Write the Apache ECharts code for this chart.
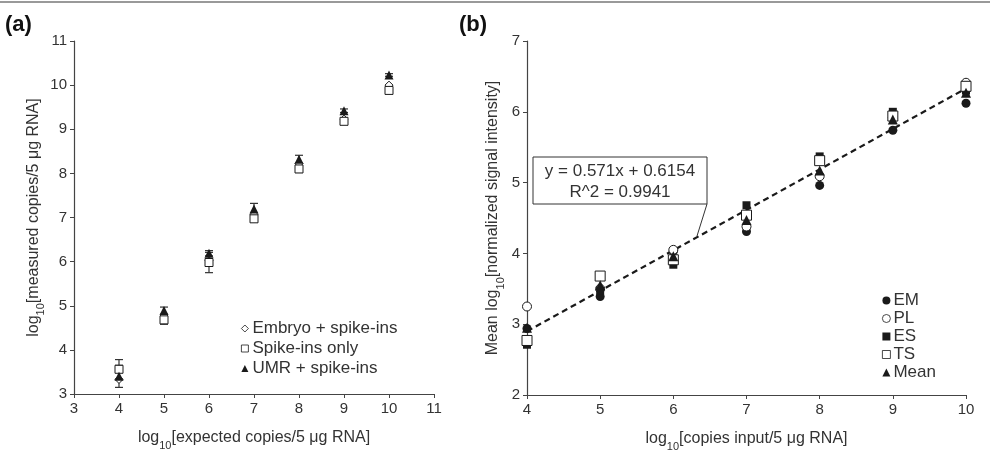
<!DOCTYPE html>
<html>
<head>
<meta charset="utf-8">
<script src="https://cdn.jsdelivr.net/npm/echarts@6/dist/echarts.min.js"></script>
<style>
  html, body { margin: 0; padding: 0; background: #fff; }
  #chart { width: 990px; height: 462px; }
</style>
</head>
<body>
<div id="chart"></div>
<script>
// panel (a)
var xA = [4, 5, 6, 7, 8, 9, 10]
var embryo = [3.33, 4.79, 6.02, 7.07, 8.22, 9.23, 10.0]
var spikeOnly = [3.56, 4.68, 5.98, 6.97, 8.1, 9.18, 9.88]
var umr = [3.4, 4.89, 6.19, 7.19, 8.32, 9.42, 10.23]
var spikeErr = [0.22, 0.1, 0.23, 0.06, 0.08, 0.05, 0.04]
var umrErr = [0.25, 0.08, 0.06, 0.13, 0.09, 0.04, 0.03]

// panel (b)
var xB = [4, 5, 6, 7, 8, 9, 10]
var em = [2.94, 3.39, 4.03, 4.31, 4.96, 5.74, 6.12]
var pl = [3.25, 3.5, 4.05, 4.38, 5.09, 5.92, 6.41]
var es = [2.71, 3.47, 3.84, 4.68, 5.37, 6.0, 6.3]
var ts = [2.77, 3.68, 3.91, 4.54, 5.31, 5.94, 6.36]
var mean = [2.95, 3.55, 3.96, 4.47, 5.17, 5.89, 6.27]
var trend = [[4, 2.9], [10, 6.33]]

var ink = '#1a1a1a'
var font = "'Liberation Sans', Arial, sans-serif"

function pairs(xs, ys) {
    return xs.map(function (x, i) { return [x, ys[i]] })
}
function errData(xs, ys, es) {
    return xs.map(function (x, i) { return [x, ys[i] - es[i], ys[i] + es[i]] })
}
function errItem(params, api) {
    var x = api.value(0)
    var lo = api.coord([x, api.value(1)])
    var hi = api.coord([x, api.value(2)])
    var w = 4
    var st = { stroke: '#333', lineWidth: 1.2 }
    return {
        type: 'group',
        children: [
            { type: 'line', shape: { x1: hi[0], y1: hi[1], x2: lo[0], y2: lo[1] }, style: st },
            { type: 'line', shape: { x1: hi[0] - w, y1: hi[1], x2: hi[0] + w, y2: hi[1] }, style: st },
            { type: 'line', shape: { x1: lo[0] - w, y1: lo[1], x2: lo[0] + w, y2: lo[1] }, style: st }
        ]
    }
}

var rich = {
    a: { fontSize: 16, color: '#333', fontFamily: font, lineHeight: 22, verticalAlign: 'bottom' },
    s: { fontSize: 11, color: '#333', fontFamily: font, lineHeight: 22, verticalAlign: 'bottom', padding: [0, 0, -5, 0] }
}

function axisBase() {
    return {
        nameLocation: 'middle',
        nameTextStyle: { rich: rich },
        splitLine: { show: false },
        axisLine: { lineStyle: { color: '#444', width: 1.2 } },
        axisTick: { lineStyle: { color: '#444' }, length: 4 },
        axisLabel: { color: '#333', fontSize: 15, fontFamily: font, margin: 7 }
    }
}

var chart = echarts.init(document.getElementById('chart'))

var option = {
    animation: false,
    backgroundColor: '#fff',
    grid: [
        { left: 74, top: 41, width: 360, height: 353 },
        { left: 527, top: 41, width: 439, height: 354 }
    ],
    xAxis: [
        Object.assign(axisBase(), {
            gridIndex: 0, type: 'value', min: 3, max: 11, interval: 1,
            name: '{a|log}{s|10}{a|[expected copies/5 μg RNA]}', nameGap: 30
        }),
        Object.assign(axisBase(), {
            gridIndex: 1, type: 'value', min: 4, max: 10, interval: 1,
            name: '{a|log}{s|10}{a|[copies input/5 μg RNA]}', nameGap: 30
        })
    ],
    yAxis: [
        Object.assign(axisBase(), {
            gridIndex: 0, type: 'value', min: 3, max: 11, interval: 1,
            name: '{a|log}{s|10}{a|[measured copies/5 μg RNA]}', nameGap: 26
        }),
        Object.assign(axisBase(), {
            gridIndex: 1, type: 'value', min: 2, max: 7, interval: 1,
            name: '{a|Mean log}{s|10}{a|[normalized signal intensity]}', nameGap: 26
        })
    ],
    legend: [
        {
            left: 236, top: 315, orient: 'vertical', itemWidth: 7, itemHeight: 7, itemGap: 3,
            itemStyle: { borderWidth: 0.8 },
            textStyle: { fontSize: 17, color: '#333', fontFamily: font, padding: [0, 0, 0, -1] },
            data: ['Embryo + spike-ins', 'Spike-ins only', 'UMR + spike-ins']
        },
        {
            left: 877, top: 287, orient: 'vertical', itemWidth: 8, itemHeight: 8, itemGap: 1,
            itemStyle: { borderWidth: 0.8 },
            textStyle: { fontSize: 17, color: '#333', fontFamily: font, padding: [0, 0, 0, -2] },
            data: ['EM', 'PL', 'ES', 'TS', 'Mean']
        }
    ],
    series: [
        { type: 'custom', xAxisIndex: 0, yAxisIndex: 0, renderItem: errItem, data: errData(xA, spikeOnly, spikeErr), z: 1 },
        { type: 'custom', xAxisIndex: 0, yAxisIndex: 0, renderItem: errItem, data: errData(xA, umr, umrErr), z: 1 },
        {
            name: 'Embryo + spike-ins', type: 'scatter', xAxisIndex: 0, yAxisIndex: 0,
            symbol: 'diamond', symbolSize: 8,
            itemStyle: { color: '#fff', borderColor: ink, borderWidth: 1, opacity: 1 },
            data: pairs(xA, embryo), z: 3
        },
        {
            name: 'Spike-ins only', type: 'scatter', xAxisIndex: 0, yAxisIndex: 0,
            symbol: 'rect', symbolSize: 8,
            itemStyle: { color: '#fff', borderColor: ink, borderWidth: 1, opacity: 1 },
            data: pairs(xA, spikeOnly), z: 3
        },
        {
            name: 'UMR + spike-ins', type: 'scatter', xAxisIndex: 0, yAxisIndex: 0,
            symbol: 'triangle', symbolSize: 9,
            itemStyle: { color: ink, opacity: 1 },
            data: pairs(xA, umr), z: 4
        },
        {
            type: 'line', xAxisIndex: 1, yAxisIndex: 1, data: trend, symbol: 'none',
            lineStyle: { color: ink, width: 2.2, type: [6, 4] }, z: 2, silent: true
        },
        {
            name: 'EM', type: 'scatter', xAxisIndex: 1, yAxisIndex: 1,
            symbol: 'circle', symbolSize: 9, itemStyle: { color: ink, opacity: 1 },
            data: pairs(xB, em), z: 3
        },
        {
            name: 'PL', type: 'scatter', xAxisIndex: 1, yAxisIndex: 1,
            symbol: 'circle', symbolSize: 9,
            itemStyle: { color: '#fff', borderColor: ink, borderWidth: 1, opacity: 1 },
            data: pairs(xB, pl), z: 3
        },
        {
            name: 'ES', type: 'scatter', xAxisIndex: 1, yAxisIndex: 1,
            symbol: 'rect', symbolSize: 8, itemStyle: { color: ink, opacity: 1 },
            data: pairs(xB, es), z: 3
        },
        {
            name: 'TS', type: 'scatter', xAxisIndex: 1, yAxisIndex: 1,
            symbol: 'rect', symbolSize: 10,
            itemStyle: { color: '#fff', borderColor: ink, borderWidth: 1, opacity: 1 },
            data: pairs(xB, ts), z: 3
        },
        {
            name: 'Mean', type: 'scatter', xAxisIndex: 1, yAxisIndex: 1,
            symbol: 'triangle', symbolSize: 10, itemStyle: { color: ink, opacity: 1 },
            data: pairs(xB, mean), z: 4
        }
    ],
    graphic: [
        { type: 'line', shape: { x1: 0, y1: 2, x2: 990, y2: 2 }, style: { stroke: '#999', lineWidth: 2 } },
        { type: 'text', left: 5, top: 14, style: { text: '(a)', font: "bold 22px 'Liberation Sans Narrow', 'Liberation Sans', Arial", fill: '#111' } },
        { type: 'text', left: 459, top: 14, style: { text: '(b)', font: "bold 22px 'Liberation Sans Narrow', 'Liberation Sans', Arial", fill: '#111' } },
        { type: 'rect', shape: { x: 533, y: 157, width: 174, height: 47 }, style: { fill: '#fff', stroke: '#333', lineWidth: 1 }, z: 10 },
        { type: 'text', x: 620, y: 171, style: { text: 'y = 0.571x + 0.6154', align: 'center', verticalAlign: 'middle', font: '17px ' + font, fill: '#333' }, z: 11 },
        { type: 'text', x: 620, y: 192, style: { text: 'R^2 = 0.9941', align: 'center', verticalAlign: 'middle', font: '17px ' + font, fill: '#333' }, z: 11 },
        { type: 'line', shape: { x1: 707, y1: 204, x2: 697, y2: 236 }, style: { stroke: '#333', lineWidth: 1 }, z: 10 }
    ]
}

chart.setOption(option)
</script>
</body>
</html>
